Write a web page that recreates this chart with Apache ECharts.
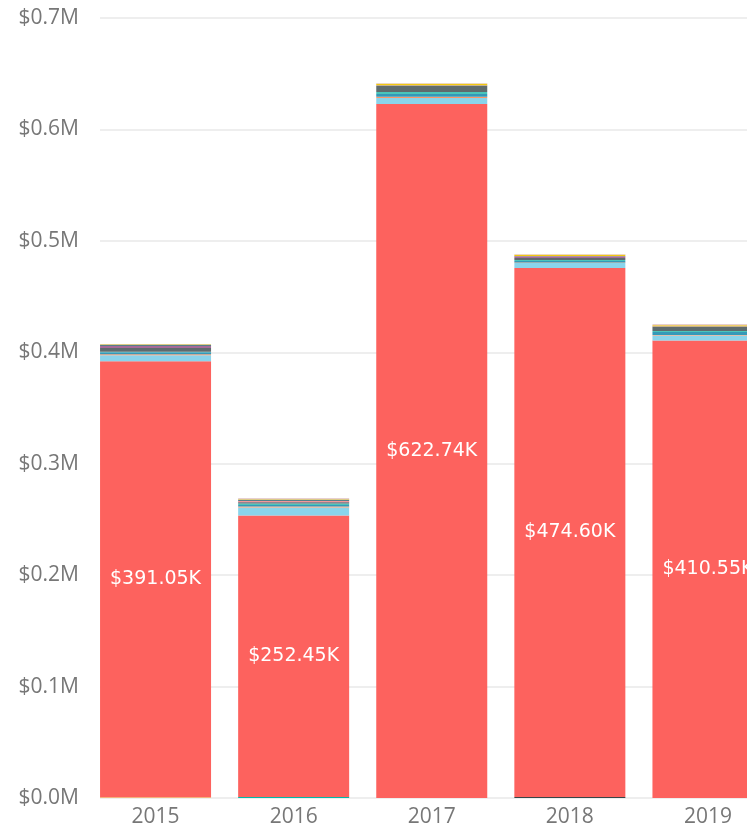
<!DOCTYPE html>
<html>
<head>
<meta charset="utf-8">
<script src="https://cdn.jsdelivr.net/npm/echarts@6/dist/echarts.min.js"></script>
<style>
  html, body { margin: 0; padding: 0; background: #fff; overflow: hidden; width: 747px; height: 833px; }
  #grid { width: 777px; height: 833px; }
</style>
</head>
<body>
<div id="grid"></div>
<script>
// values in thousands of dollars
let years = ['2015', '2016', '2017', '2018', '2019'];
let yTicks = [0, 100, 200, 300, 400, 500, 600, 700];

// tiny segments sitting under the main series
let bottomOrange = [0.9, 0, 0, 0, 0];
let bottomTeal = [0, 1.0, 0, 0, 0];
let bottomDark = [0, 0, 0, 1.0, 0];

// main series (labelled)
let mainValues = [391.05, 252.45, 622.74, 474.60, 410.55];

// small series stacked on top
let lightBlue = [5.4, 7.2, 5.4, 4.5, 4.5];
let orange = [0.9, 0.9, 1.2, 0.4, 0.4];
let blue = [1.8, 1.5, 2.4, 1.5, 2.7];
let teal = [0.5, 1.2, 1.8, 0.9, 0.9];
let darkGray = [3.3, 1.2, 5.4, 1.8, 3.6];
let purple = [1.8, 0.5, 0.3, 1.2, 0.3];
let salmon = [0.3, 0.9, 0.2, 0.2, 0.2];
let darkTeal = [0.9, 0.9, 0.3, 0.3, 0.3];
let yellow = [0.3, 0.3, 1.2, 1.2, 0.9];
let pink = [0.3, 0.9, 0.6, 0.3, 0.9];

let textColor = '#777777';

function small(name, data, color) {
    return {
        name: name,
        type: 'bar',
        stack: 'total',
        xAxisIndex: 0,
        yAxisIndex: 0,
        barWidth: 111,
        itemStyle: { color: color },
        data: data
    };
}

let series = [
    small('a', bottomOrange, '#F5B07C'),
    small('b', bottomTeal, '#01B8AA'),
    small('c', bottomDark, '#374649'),
    {
        name: 'main',
        type: 'bar',
        stack: 'total',
        xAxisIndex: 0,
        yAxisIndex: 0,
        barWidth: 111,
        itemStyle: { color: '#FD625E' },
        label: {
            show: true,
            position: 'inside',
            color: '#ffffff',
            fontFamily: 'DejaVu Sans',
            fontSize: 19,
            formatter: function (p) {
                return '$' + p.value.toFixed(2) + 'K';
            }
        },
        data: mainValues
    },
    small('d', lightBlue, '#8AD4EB'),
    small('e', orange, '#FE9666'),
    small('f', blue, '#3599B8'),
    small('g', teal, '#4AC5BB'),
    small('h', darkGray, '#5F6B6D'),
    small('i', purple, '#A66999'),
    small('j', salmon, '#FB8281'),
    small('k', darkTeal, '#1F5F6B'),
    small('l', yellow, '#F2C80F'),
    small('m', pink, '#DFBFBF')
];

option = {
    animation: false,
    grid: [
        // bars (the last one runs past the right edge of the page)
        { left: 86.5, right: 0, top: 18, bottom: 35 },
        // gridlines and value labels
        { left: 100, right: 30, top: 18, bottom: 35 }
    ],
    xAxis: [{
        gridIndex: 0,
        type: 'category',
        data: years,
        axisLine: { show: false },
        axisTick: { show: false },
        axisLabel: {
            color: textColor,
            fontFamily: 'Open Sans',
            fontSize: 21,
            margin: 9
        }
    }, {
        gridIndex: 1,
        type: 'value',
        show: false
    }],
    yAxis: [{
        gridIndex: 0,
        type: 'value',
        min: yTicks[0],
        max: yTicks[yTicks.length - 1],
        interval: 100,
        show: false
    }, {
        gridIndex: 1,
        type: 'value',
        min: yTicks[0],
        max: yTicks[yTicks.length - 1],
        interval: 100,
        axisLine: { show: false },
        axisTick: { show: false },
        axisLabel: {
            color: textColor,
            fontFamily: 'Open Sans',
            fontSize: 21,
            margin: 21,
            formatter: function (v) {
                return '$' + (v / 1000).toFixed(1) + 'M';
            }
        },
        splitLine: {
            lineStyle: { color: '#E8E8E8', width: 1.5 }
        }
    }],
    series: series
};

let myChart = echarts.init(document.getElementById('grid'));
myChart.setOption(option);
</script>
</body>
</html>
